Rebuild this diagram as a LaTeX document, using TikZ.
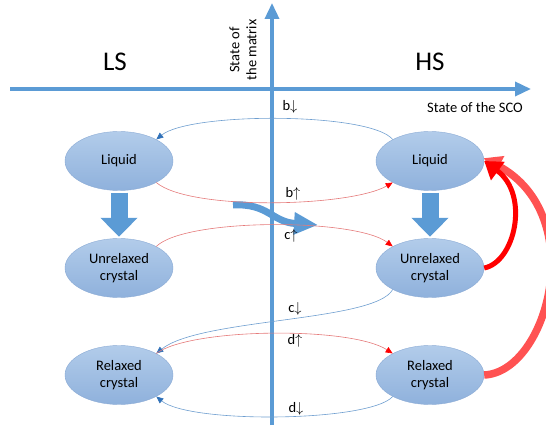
\documentclass[tikz,border=0pt]{standalone}
\usepackage{fontspec}
\setmainfont{Carlito}
\usepackage{amsmath}
\usepackage{tikz}
\usetikzlibrary{arrows.meta,shapes.geometric}
\definecolor{axisblue}{HTML}{5B9BD5}
\definecolor{elltop}{HTML}{B2CCEA}
\definecolor{ellbot}{HTML}{8FB1DC}
\definecolor{ellline}{HTML}{8AAAD4}
\definecolor{arcblue}{HTML}{6E9ECF}
\definecolor{tipblue}{HTML}{2F70B8}
\definecolor{arcred}{HTML}{E57A7A}
\definecolor{lightred}{HTML}{FF5252}

\begin{document}
\begin{tikzpicture}[x=1pt, y=-1pt, line width=0.6pt,
    state/.style={ellipse, draw=ellline, line width=0.4pt, top color=elltop,
      bottom color=ellbot, minimum width=108pt, minimum height=59pt,
      inner sep=0pt, align=center, font=\fontsize{14.5}{17}\selectfont},
    lab/.style={font=\fontsize{14.5}{17}\selectfont},
    axis/.style={axisblue, line width=3.5pt, -{Triangle[length=16pt,width=14pt]}},
    blockarrow/.style={axisblue, line width=17pt, shorten <=2pt, shorten >=1.5pt,
      -{Triangle[length=19pt,width=36pt]}},
    downarc/.style={arcblue, -{Triangle[length=7pt,width=6pt,color=tipblue]}},
    uparc/.style={arcred, -{Triangle[length=7pt,width=6pt,color=red]}}]

        \useasboundingbox (0,0) rectangle (546,427);

        % axes
        \coordinate(ybot) at (272, 425);
        \coordinate(ytop) at (272, 3);
        \coordinate(xleft) at (10, 89);
        \coordinate(xright) at (531, 89);
        \draw[axis] (ybot) -- (ytop);
        \draw[axis] (xleft) -- (xright);

        \node[lab, rotate=90, align=center] (matrix) at (243, 50) {State of\\the matrix};
        \node[lab] (sco) at (475, 108) {State of the SCO};
        \node[font=\fontsize{27}{30}\selectfont] (ls) at (115, 62) {LS};
        \node[font=\fontsize{27}{30}\selectfont] (hs) at (430, 62) {HS};

        % curved blue arrow
        \coordinate(wtail) at (233, 205);
        \coordinate(whead) at (318, 225);
        \draw[axisblue, line width=7pt, -{Triangle[length=24pt,width=21pt]}]
            (wtail) .. controls (268, 203) and (272, 222) .. (whead);

        % states
        \node[state](ll) at (119, 161) {Liquid};
        \node[state](lu) at (119, 268) {Unrelaxed\\crystal};
        \node[state](lr) at (119, 375) {Relaxed\\crystal};
        \node[state](hl) at (430, 161) {Liquid};
        \node[state](hu) at (430, 268) {Unrelaxed\\crystal};
        \node[state](hr) at (430, 375) {Relaxed\\crystal};

        \draw[blockarrow] (ll) -- (lu);
        \draw[blockarrow] (hl) -- (hu);

        % transitions
        \draw[downarc] (hl.150) .. controls (370, 112) and (190, 112) .. (ll.30);
        \draw[uparc] (ll.-30) .. controls (190, 211) and (350, 207) .. (hl.210);
        \draw[uparc] (lu.30) .. controls (185, 218) and (355, 218) .. (hu.150);
        \draw[downarc] (hu.210) .. controls (375, 322) and (200, 318) .. (lr.30);
        \draw[uparc] (lr.30) .. controls (190, 328) and (350, 326) .. (hr.150);
        \draw[downarc] (hr.210) .. controls (370, 422) and (190, 424) .. (lr.-30);

        \draw[lightred, line width=7.5pt, -{Triangle[length=17pt,width=22pt]}]
            (hr.east) .. controls (548, 372) and (590, 215) .. (hl.3);
        \draw[red, line width=5pt, -{Triangle[length=17pt,width=22pt]}]
            (hu.east) .. controls (515, 262) and (530, 195) .. (hl.east);

        \node[lab](bd) at (290, 107) {b$\downarrow$};
        \node[lab](bu) at (293, 194) {b$\uparrow$};
        \node[lab](cu) at (291, 236) {c$\uparrow$};
        \node[lab](cd) at (295, 309) {c$\downarrow$};
        \node[lab](du) at (295, 341) {d$\uparrow$};
        \node[lab](dd) at (296, 409) {d$\downarrow$};

      \end{tikzpicture}
\end{document}
